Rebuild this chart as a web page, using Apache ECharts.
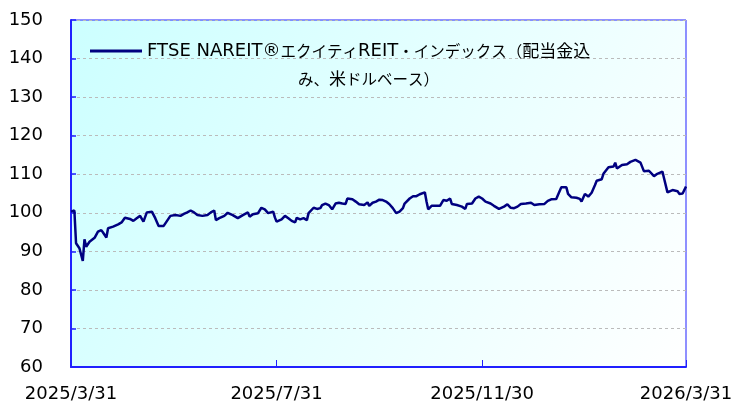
<!DOCTYPE html>
<html><head><meta charset="utf-8">
<script src="https://cdn.jsdelivr.net/npm/echarts@6/dist/echarts.min.js"></script>
<style>html,body{margin:0;padding:0;background:#fff}#c{width:736px;height:403px}</style>
</head><body><div id="c"></div>
<script>
// Days since 2025/3/31
const days = [0,2,3,5,7,8,9,11,14,16,18,19,21,22,25,28,30,32,35,37,39,41,43,45,48,50,52,55,57,59,62,65,67,69,71,73,75,78,81,83,85,86,88,91,
93,96,99,102,105,106,108,111,113,115,117,118,120,121,122,125,127,129,131,133,134,136,138,140,141,142,144,146,148,149,151,153,155,157,159,161,163,164,167,169,171,174,176,177,179,181,
183,185,187,189,191,193,195,197,198,199,201,203,205,207,210,211,212,214,216,219,221,223,225,226,229,232,234,235,238,240,242,244,246,249,251,254,257,259,261,263,265,267,270,
273,275,278,281,283,285,288,289,291,294,295,297,300,302,303,305,307,309,311,312,315,316,319,322,323,324,327,330,332,335,338,340,343,344,346,348,351,352,354,357,360,361,363,365];
const values = [100.3,100.6,92.1,90.8,87.5,93.1,91.2,92.5,93.5,95.1,95.5,94.9,93.6,96.0,96.4,97.0,97.5,98.7,98.4,97.9,98.6,99.2,97.7,100.1,100.3,98.6,96.6,96.6,97.9,99.2,99.4,99.2,99.7,100.1,100.6,100.1,99.4,99.2,99.4,100.1,100.6,98.1,98.6,99.2,
100.0,99.4,98.6,99.4,100.1,99.0,99.6,99.9,101.3,100.9,99.9,99.4,100.3,98.8,97.7,98.3,99.2,98.6,97.9,97.5,98.7,98.3,98.6,98.1,99.9,100.1,101.3,101.0,101.2,102.0,102.4,102.0,100.9,102.4,102.6,102.4,102.3,103.7,103.5,102.9,102.2,102.0,102.7,101.8,102.6,102.9,
103.4,103.3,102.9,102.2,101.2,99.9,100.3,101.2,102.4,102.9,103.7,104.3,104.3,104.8,105.3,102.9,100.9,101.8,101.8,101.8,103.3,103.1,103.7,102.3,102.0,101.6,101.0,102.3,102.4,103.7,104.2,103.7,102.9,102.4,101.8,101.0,101.6,102.2,101.3,101.2,101.6,102.3,102.4,
102.6,102.0,102.2,102.3,103.1,103.5,103.6,104.6,106.6,106.6,104.9,104.0,103.9,103.6,102.9,104.9,104.2,105.2,107.2,108.3,108.7,110.1,111.8,112.0,113.0,111.5,112.4,112.6,113.2,113.7,113.0,110.8,110.9,111.1,109.5,110.1,110.7,108.9,105.3,105.9,105.6,104.9,105.0,106.8];
const tickDays = [0,122,244,365];
const tickLabels = ['2025/3/31','2025/7/31','2025/11/30','2026/3/31'];
const seriesName = 'FTSE NAREIT®エクイティREIT・インデックス（配当金込\nみ、米ドルベース）';

const font = '"DejaVu Sans","Noto Sans CJK JP",sans-serif';
const cjk = '"Noto Sans CJK JP",sans-serif';

function tokenize(line) {
  let out = '', cur = null, buf = '';
  const cls = ch => /[\u4e00-\u9fff]/.test(ch) ? 'j' : (/[\u3000-\u30ff\uff00-\uffef]/.test(ch) ? 'k' : 'l');
  for (const ch of line) {
    const c = cls(ch);
    if (c !== cur && buf) { out += '{' + cur + '|' + buf + '}'; buf = ''; }
    cur = c; buf += ch;
  }
  if (buf) out += '{' + cur + '|' + buf + '}';
  return out;
}

const chart = echarts.init(document.getElementById('c'), null, {renderer:'canvas'});
chart.setOption({
  animation: false,
  backgroundColor: '#ffffff',
  grid: {
    left: 71, right: 50, top: 20, bottom: 36,
    show: true, borderColor: '#2020ff', borderWidth: 1,
    backgroundColor: new echarts.graphic.LinearGradient(0,0,1,1,[{offset:0,color:'#ccffff'},{offset:1,color:'#ffffff'}])
  },
  legend: {
    left: 90, top: 42, padding: 0,
    itemWidth: 52, itemHeight: 14,
    data: [{name: seriesName, icon: 'path://M0,6 L52,6 L52,9 L0,9 Z'}],
    formatter: function(n){ return n.split('\n').map(tokenize).join('\n'); },
    textStyle: {
      fontFamily: font, fontSize: 18, color: '#000', padding: [28,0,0,0],
      rich: {
        l: { fontFamily: font, fontSize: 18, lineHeight: 28, align: 'center', verticalAlign: 'middle', color: '#000' },
        k: { fontFamily: cjk, fontSize: 15.5, lineHeight: 28, align: 'center', verticalAlign: 'middle', color: '#000' },
        j: { fontFamily: cjk, fontSize: 17, lineHeight: 28, align: 'center', verticalAlign: 'middle', color: '#000' }
      }
    }
  },
  xAxis: {
    type: 'value', min: 0, max: 365, interval: 122,
    axisLine: { show: true, lineStyle: { color: '#2020ff', width: 2 } },
    axisTick: { show: true, inside: true, length: 7, lineStyle: { color: '#2020ff', width: 1 } },
    splitLine: { show: false },
    axisLabel: {
      showMinLabel: true, showMaxLabel: true, hideOverlap: false,
      margin: 18, fontFamily: font, fontSize: 18, color: '#000',
      formatter: function(v){ const i = tickDays.indexOf(Math.round(v)); return i >= 0 ? tickLabels[i] : ''; }
    }
  },
  yAxis: {
    type: 'value', min: 60, max: 150, interval: 10,
    axisLine: { show: true, lineStyle: { color: '#2020ff', width: 2 } },
    axisTick: { show: true, inside: true, length: 5, lineStyle: { color: '#2020ff', width: 1.5 } },
    splitLine: { show: true, lineStyle: { color: '#bbbbbb', type: [3,3], width: 1 } },
    axisLabel: { margin: 28, fontFamily: font, fontSize: 18, color: '#000' }
  },
  series: [{
    name: seriesName, type: 'line', showSymbol: false, symbol: 'none',
    data: days.map((d,i) => [d, values[i]]),
    lineStyle: { color: '#000080', width: 2.5 }, itemStyle: { color: '#000080' }
  }]
});
</script></body></html>
